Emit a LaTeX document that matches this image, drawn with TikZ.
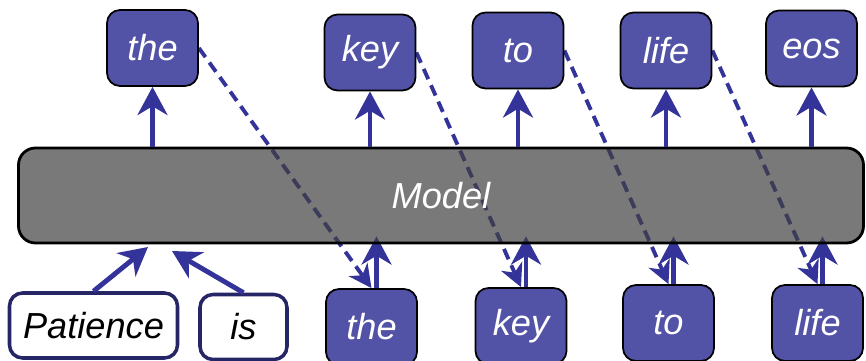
\documentclass[tikz,border=0pt]{standalone}
\usepackage{fontspec}
\setmainfont{Liberation Sans}
\usepackage{tikz}
\usetikzlibrary{arrows.meta,backgrounds}
\definecolor{boxblue}{RGB}{82,82,166}
\definecolor{arrowblue}{RGB}{51,51,153}
\definecolor{inkblue}{RGB}{38,38,102}

\tikzset{
  word/.style={draw=black,line width=0.5pt,fill=boxblue,text=white,rounded corners=0.13cm,
    minimum width=0.91cm,minimum height=0.76cm,inner sep=0pt,font=\fontsize{10.3}{12}\selectfont\itshape},
  prompt/.style={draw=inkblue,line width=1pt,fill=white,text=black,rounded corners=0.13cm,
    minimum height=0.65cm,inner sep=0pt,font=\fontsize{10.3}{12}\selectfont\itshape},
  modelbox/.style={draw=black,line width=0.8pt,fill=black!75,fill opacity=0.7,text opacity=1,text=white,
    rounded corners=0.17cm,minimum width=8.45cm,minimum height=0.95cm,font=\fontsize{10.3}{12}\selectfont\itshape},
  up/.style={arrowblue,line width=1.4pt,-{Stealth[length=8pt,width=8.5pt,inset=2.5pt]}},
  feed/.style={arrowblue,line width=1.1pt,dash pattern=on 3.2pt off 1.9pt,-{Stealth[length=6.5pt,width=6.5pt,inset=2pt]}}
}

\begin{document}
\begin{tikzpicture}
  \useasboundingbox (0,0) rectangle (8.66,3.61);
  % model
  \node[modelbox] (m) at (4.41,1.655) {Model};
  % outputs
  \node[word] (t1) at (1.525,3.13) {the};
  \node[word] (t2) at (3.70,3.085) {key};
  \node[word] (t3) at (5.18,3.105) {to};
  \node[word] (t4) at (6.66,3.105) {life};
  \node[word] (t5) at (8.115,3.125) {eos};
  % inputs
  \node[prompt,minimum width=1.68cm] (p1) at (0.935,0.355) {Patience};
  \node[prompt,minimum width=0.87cm] (p2) at (2.435,0.34) {is};
  \node[word] (b1) at (3.715,0.34) {the};
  \node[word] (b2) at (5.21,0.35) {key};
  \node[word] (b3) at (6.685,0.38) {to};
  \node[word] (b4) at (8.175,0.38) {life};
  \coordinate (in1) at (1.48,1.14);
  \coordinate (in2) at (1.72,1.10);

  \foreach \i in {1,...,5}
    \draw[up] (t\i.south |- m.north) -- (t\i.south);
  \draw[up] (p1.north) -- (in1);
  \draw[up] (p2.north) -- (in2);

  % behind the model
  \begin{scope}[on background layer]
    \foreach \i in {1,...,4} {
      \draw[feed] (t\i.east) -- (b\i.north);
      \draw[up,shorten >=-0.08cm] ([xshift=0.05cm]b\i.north) -- ([xshift=0.05cm]b\i.north |- m.south);
    }
  \end{scope}
\end{tikzpicture}
\end{document}
